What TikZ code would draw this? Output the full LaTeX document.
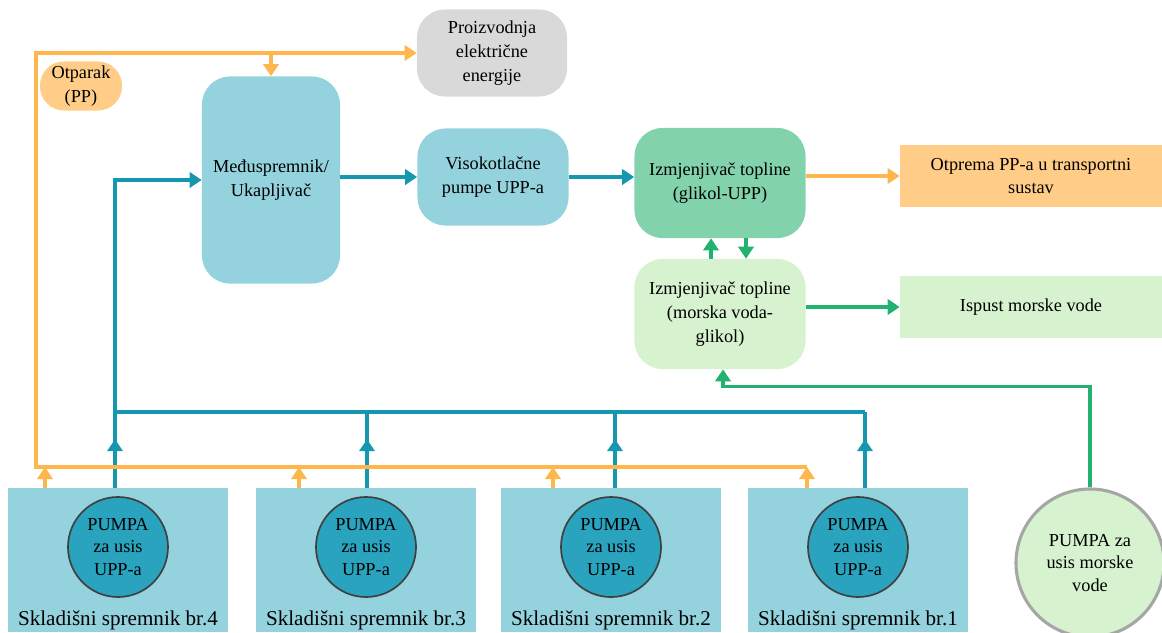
\documentclass[tikz,border=0pt]{standalone}
\usepackage{fontspec}
\setmainfont{Liberation Serif}
\usetikzlibrary{arrows.meta}
\definecolor{lngteal}{RGB}{148,211,222}
\definecolor{lngpump}{RGB}{41,163,190}
\definecolor{lngorange}{RGB}{255,205,135}
\definecolor{lnggrey}{RGB}{217,217,217}
\definecolor{lngglycol}{RGB}{130,211,172}
\definecolor{lngsea}{RGB}{214,242,206}
\definecolor{oflow}{RGB}{255,183,77}
\definecolor{bflow}{RGB}{21,151,176}
\definecolor{gflow}{RGB}{32,178,110}
\begin{document}
\begin{tikzpicture}[x=0.025cm,y=-0.025cm,>={Triangle[length=0.3cm,width=0.38cm]},
	box/.style={rounded corners=0.7cm,align=center,inner sep=0pt,font=\fontsize{13}{17}\selectfont},
	flat/.style={align=center,inner sep=0pt,font=\fontsize{13}{17}\selectfont,minimum width=6.55cm},
	tank/.style={fill=lngteal,minimum width=5.5cm,minimum height=3.575cm,inner sep=0pt},
	pump/.style={circle,fill=lngpump,draw=black!75,line width=1.2pt,minimum size=2.5cm,inner sep=0pt,align=center,font=\fontsize{13}{16.3}\selectfont},
	oline/.style={draw=oflow,line width=2.3pt},
	bline/.style={draw=bflow,line width=2.3pt},
	gline/.style={draw=gflow,line width=2.3pt}]
	\useasboundingbox (0,0) rectangle (1162,632);
	\node[box,fill=lngorange,rounded corners=0.6cm,minimum width=2.05cm,minimum height=1.225cm] (otparak) at (81,86) {Otparak\\(PP)};
	\node[box,fill=lnggrey,minimum width=3.75cm,minimum height=2.175cm] (proiz) at (492,53) {Proizvodnja\\električne\\energije};
	\node[box,fill=lngteal,minimum width=3.45cm,minimum height=5.175cm] (medju) at (271,180) {Međuspremnik/\\Ukapljivač};
	\node[box,fill=lngteal,minimum width=3.775cm,minimum height=2.425cm] (visok) at (493,177) {Visokotlačne\\pumpe UPP-a};
	\node[box,fill=lngglycol,minimum width=4.275cm,minimum height=2.75cm] (glikol) at (720,183) {Izmjenjivač topline\\(glikol-UPP)};
	\node[box,fill=lngsea,minimum width=4.275cm,minimum height=2.75cm] (morska) at (720,314) {Izmjenjivač topline\\(morska voda-\\glikol)};
	\node[flat,fill=lngorange,minimum height=1.525cm] (otprema) at (1031,176) {Otprema PP-a u transportni\\sustav};
	\node[flat,fill=lngsea,minimum height=1.55cm] (ispust) at (1031,307) {Ispust morske vode};
	\node[pump,fill=lngsea,draw=black!35,line width=2.2pt,minimum size=3.7cm] (sea) at (1090,563) {PUMPA za\\usis morske\\vode};
	\coordinate (oc) at (36,467);
	\foreach \n/\x/\o/\b in {4/118/45/115,3/366/299/367,2/611/553/615,1/858/807/865}{
		\node[tank] (t\n) at (\x,560) {};
		\node[pump] (p\n) at (\x,547) {PUMPA\\za usis\\UPP-a};
		\node[font=\fontsize{15}{18}\selectfont,inner sep=0pt] (l\n) at (\x,620) {Skladišni spremnik br.\n};
		\coordinate (o\n) at (\o,467);
		\coordinate (b\n) at (\b,412);
		\draw[oline,->] (o\n |- t\n.north) -- (o\n);
		\draw[bline] (b\n |- t\n.north) -- (b\n);
		\draw[bline,->] (b\n |- t\n.north) -- ++(0,-49);
	}
	\draw[oline,->] (o1) -- (oc) |- (proiz.west);
	\draw[oline,->] (medju.north |- proiz.west) -- (medju.north);
	\draw[oline,->] (otprema.west -| glikol.east) -- (otprema.west);
	\draw[bline] (b1) -- (b4);
	\draw[bline,->] (b4) |- (medju.west);
	\draw[bline,->] (medju.east |- visok.west) -- (visok.west);
	\draw[bline,->] (visok.east) -- (visok.east -| glikol.west);
	\draw[gline,->] ([xshift=-0.225cm]morska.north) -- ([xshift=-0.225cm]glikol.south);
	\draw[gline,->] ([xshift=0.65cm]glikol.south) -- ([xshift=0.65cm]morska.north);
	\draw[gline,->] (morska.east |- ispust.west) -- (ispust.west);
	\draw[gline,->] (sea.north) -- ++(0,-101) -| ([xshift=0.075cm]morska.south);
\end{tikzpicture}
\end{document}
